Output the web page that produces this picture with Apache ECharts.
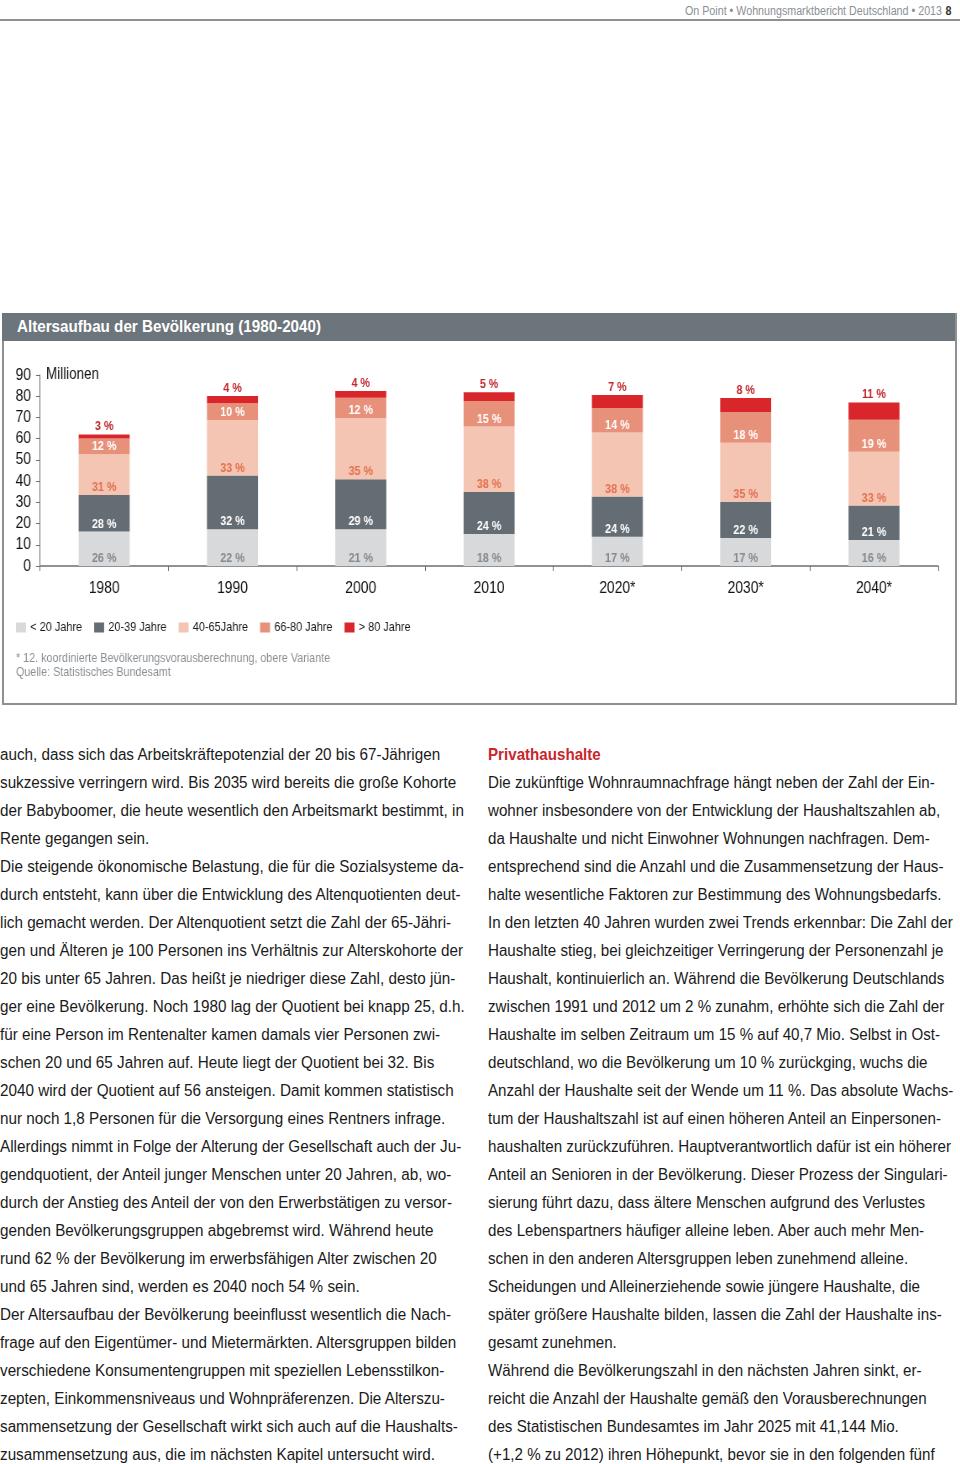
<!DOCTYPE html>
<html>
<head>
<meta charset="utf-8">
<script src="https://cdn.jsdelivr.net/npm/echarts@6/dist/echarts.min.js"></script>
<style>
  html, body { margin:0; padding:0; background:#fff; }
  body { width:960px; height:1464px; position:relative; overflow:hidden;
         font-family:"Liberation Sans",Arial,sans-serif; }
  .sx { transform-origin:0 0; white-space:nowrap; }
  #hdr { position:absolute; left:685px; top:4px; font-size:12.5px; color:#8a8f94; }
  #hdr b { color:#333; font-weight:bold; margin-left:4px; }
  #hdrline { position:absolute; left:0; top:19px; width:960px; height:2px; background:#8c9196; }
  #box { position:absolute; left:2px; top:313px; width:951px; height:390px; border:2px solid #8c9196; border-top:none; }
  #titlebar { position:absolute; left:2px; top:313px; width:953px; height:28px; background:#6c757b; }
  #titlebar span { position:absolute; left:15px; top:4px; color:#fff; font-weight:bold; font-size:17px; }
  #chartWrap { position:absolute; left:0; top:341px; width:960px; height:362px; overflow:hidden; }
  #chart { position:absolute; left:0; top:0; height:362px; transform-origin:0 0; }
  .col { position:absolute; top:740px; font-size:17.3px; line-height:28px; color:#1a1a1a; }
  #colL { left:0; }
  #colR { left:488px; }
  .col .h { color:#c8262b; font-weight:bold; }
</style>
</head>
<body>
<div id="hdr" class="sx">On Point • Wohnungsmarktbericht Deutschland • 2013<b>8</b></div>
<div id="hdrline"></div>
<div id="box"></div>
<div id="titlebar"><span class="sx" id="ttl">Altersaufbau der Bevölkerung (1980-2040)</span></div>
<div id="chartWrap"><div id="chart"></div></div>
<div class="col sx" id="colL"></div>
<div class="col sx" id="colR"></div>
<script>
// ---- data (millions) ----
var years = ['1980', '1990', '2000', '2010', '2020*', '2030*', '2040*'];
var seriesNames = ['< 20 Jahre', '20-39 Jahre', '40-65Jahre', '66-80 Jahre', '> 80 Jahre'];
var under20   = [16.2, 17.3, 17.3, 15.1, 13.8, 13.2, 12.3];
var age20to39 = [17.3, 25.3, 23.6, 19.8, 18.9, 17.1, 16.2];
var age40to65 = [19.2, 26.2, 28.7, 30.8, 30.2, 27.8, 25.3];
var age66to80 = [7.4, 7.9, 9.7, 12.0, 11.6, 14.5, 15.1];
var over80    = [1.9, 3.4, 3.2, 4.2, 6.1, 6.6, 8.2];
// printed percentage labels
var pctUnder20   = [26, 22, 21, 18, 17, 17, 16];
var pct20to39    = [28, 32, 29, 24, 24, 22, 21];
var pct40to65    = [31, 33, 35, 38, 38, 35, 33];
var pct66to80    = [12, 10, 12, 15, 14, 18, 19];
var pctOver80    = [3, 4, 4, 5, 7, 8, 11];
var yTicks = [0, 10, 20, 30, 40, 50, 60, 70, 80, 90];

var colors = ['#d8d9da', '#646d73', '#f4c5b2', '#e8917a', '#d9262b'];
var labelColors = ['#858a8f', '#ffffff', '#e2714f', '#ffffff', '#c0262b'];
var values = [under20, age20to39, age40to65, age66to80, over80];
var pcts = [pctUnder20, pct20to39, pct40to65, pct66to80, pctOver80];

// the reference uses a condensed typeface; emulate by drawing into a wider
// canvas and compressing it horizontally
var S = 0.84;
var W = 960 / S;
var chartEl = document.getElementById('chart');
chartEl.style.width = W + 'px';
chartEl.style.transform = 'scaleX(' + S + ')';

var FONT = '"Liberation Sans",Arial,sans-serif';

var series = values.map(function (v, i) {
  return {
    name: seriesNames[i],
    type: 'bar',
    stack: 'pop',
    barWidth: 51 / S,
    data: v,
    itemStyle: { color: colors[i] },
    label: {
      show: true,
      position: i === 4 ? 'top' : 'insideBottom',
      distance: 1,
      color: labelColors[i],
      fontFamily: FONT,
      fontWeight: 'bold',
      fontSize: 12.8,
      formatter: (function (p) { return function (params) { return p[params.dataIndex] + ' %'; }; })(pcts[i])
    }
  };
});

var chart = echarts.init(chartEl);
chart.setOption({
  animation: false,
  textStyle: { fontFamily: FONT },
  grid: { left: 40 / S, right: 22 / S, top: 34, bottom: 137 },
  legend: {
    left: 16 / S, top: 280, padding: 0,
    icon: 'rect', itemWidth: 10 / S, itemHeight: 10, itemGap: 12 / S,
    textStyle: { fontSize: 13, color: '#1a1a1a', fontFamily: FONT },
    data: seriesNames
  },
  xAxis: {
    type: 'category',
    data: years,
    axisLine: { lineStyle: { color: '#6b6f73', width: 1.5 } },
    axisTick: { show: true, length: 5, lineStyle: { color: '#6b6f73' } },
    axisLabel: { fontSize: 16.5, color: '#111', margin: 14, fontFamily: FONT }
  },
  yAxis: {
    type: 'value', min: yTicks[0], max: yTicks[yTicks.length - 1], interval: 10,
    splitLine: { show: false },
    axisLine: { show: true, lineStyle: { color: '#6b6f73', width: 1 } },
    axisTick: { show: true, length: 4 / S, lineStyle: { color: '#6b6f73' } },
    axisLabel: { fontSize: 16.5, color: '#111', margin: 9 / S, fontFamily: FONT }
  },
  graphic: [
    { type: 'text', left: 46 / S, top: 26, style: { text: 'Millionen', fontSize: 16, fill: '#111', fontFamily: FONT } },
    { type: 'text', left: 16 / S, top: 311, style: { text: '* 12. koordinierte Bevölkerungsvorausberechnung, obere Variante', fontSize: 12.8, fill: '#8a8f94', fontFamily: FONT } },
    { type: 'text', left: 16 / S, top: 325, style: { text: 'Quelle: Statistisches Bundesamt', fontSize: 12.8, fill: '#8a8f94', fontFamily: FONT } }
  ],
  series: series
});

var leftLines = [
'auch, dass sich das Arbeitskräftepotenzial der 20 bis 67-Jährigen',
'sukzessive verringern wird. Bis 2035 wird bereits die große Kohorte',
'der Babyboomer, die heute wesentlich den Arbeitsmarkt bestimmt, in',
'Rente gegangen sein.',
'Die steigende ökonomische Belastung, die für die Sozialsysteme da-',
'durch entsteht, kann über die Entwicklung des Altenquotienten deut-',
'lich gemacht werden. Der Altenquotient setzt die Zahl der 65-Jähri-',
'gen und Älteren je 100 Personen ins Verhältnis zur Alterskohorte der',
'20 bis unter 65 Jahren. Das heißt je niedriger diese Zahl, desto jün-',
'ger eine Bevölkerung. Noch 1980 lag der Quotient bei knapp 25, d.h.',
'für eine Person im Rentenalter kamen damals vier Personen zwi-',
'schen 20 und 65 Jahren auf. Heute liegt der Quotient bei 32. Bis',
'2040 wird der Quotient auf 56 ansteigen. Damit kommen statistisch',
'nur noch 1,8 Personen für die Versorgung eines Rentners infrage.',
'Allerdings nimmt in Folge der Alterung der Gesellschaft auch der Ju-',
'gendquotient, der Anteil junger Menschen unter 20 Jahren, ab, wo-',
'durch der Anstieg des Anteil der von den Erwerbstätigen zu versor-',
'genden Bevölkerungsgruppen abgebremst wird. Während heute',
'rund 62 % der Bevölkerung im erwerbsfähigen Alter zwischen 20',
'und 65 Jahren sind, werden es 2040 noch 54 % sein.',
'Der Altersaufbau der Bevölkerung beeinflusst wesentlich die Nach-',
'frage auf den Eigentümer- und Mietermärkten. Altersgruppen bilden',
'verschiedene Konsumentengruppen mit speziellen Lebensstilkon-',
'zepten, Einkommensniveaus und Wohnpräferenzen. Die Alterszu-',
'sammensetzung der Gesellschaft wirkt sich auch auf die Haushalts-',
'zusammensetzung aus, die im nächsten Kapitel untersucht wird.'
];
var rightLines = [
'Die zukünftige Wohnraumnachfrage hängt neben der Zahl der Ein-',
'wohner insbesondere von der Entwicklung der Haushaltszahlen ab,',
'da Haushalte und nicht Einwohner Wohnungen nachfragen. Dem-',
'entsprechend sind die Anzahl und die Zusammensetzung der Haus-',
'halte wesentliche Faktoren zur Bestimmung des Wohnungsbedarfs.',
'In den letzten 40 Jahren wurden zwei Trends erkennbar: Die Zahl der',
'Haushalte stieg, bei gleichzeitiger Verringerung der Personenzahl je',
'Haushalt, kontinuierlich an. Während die Bevölkerung Deutschlands',
'zwischen 1991 und 2012 um 2 % zunahm, erhöhte sich die Zahl der',
'Haushalte im selben Zeitraum um 15 % auf 40,7 Mio. Selbst in Ost-',
'deutschland, wo die Bevölkerung um 10 % zurückging, wuchs die',
'Anzahl der Haushalte seit der Wende um 11 %. Das absolute Wachs-',
'tum der Haushaltszahl ist auf einen höheren Anteil an Einpersonen-',
'haushalten zurückzuführen. Hauptverantwortlich dafür ist ein höherer',
'Anteil an Senioren in der Bevölkerung. Dieser Prozess der Singulari-',
'sierung führt dazu, dass ältere Menschen aufgrund des Verlustes',
'des Lebenspartners häufiger alleine leben. Aber auch mehr Men-',
'schen in den anderen Altersgruppen leben zunehmend alleine.',
'Scheidungen und Alleinerziehende sowie jüngere Haushalte, die',
'später größere Haushalte bilden, lassen die Zahl der Haushalte ins-',
'gesamt zunehmen.',
'Während die Bevölkerungszahl in den nächsten Jahren sinkt, er-',
'reicht die Anzahl der Haushalte gemäß den Vorausberechnungen',
'des Statistischen Bundesamtes im Jahr 2025 mit 41,144 Mio.',
'(+1,2 % zu 2012) ihren Höhepunkt, bevor sie in den folgenden fünf'
];
function fill(el, lines, heading) {
  if (heading) {
    var h = document.createElement('div'); h.className = 'h'; h.textContent = heading; el.appendChild(h);
  }
  lines.forEach(function (t) { var d = document.createElement('div'); d.textContent = t; el.appendChild(d); });
}
var colL = document.getElementById('colL'), colR = document.getElementById('colR');
fill(colL, leftLines);
fill(colR, rightLines, 'Privathaushalte');

// horizontal compression of text blocks to the widths seen in the reference
var cv = document.createElement('canvas').getContext('2d');
function textW(font, t) { cv.font = font; return cv.measureText(t).width; }
var bodyFont = '17.3px "Liberation Sans"';
var sL = 441 / textW(bodyFont, leftLines[0]);
var sR = 465 / textW(bodyFont, rightLines[5]);
colL.style.transform = 'scaleX(' + sL + ')';
colR.style.transform = 'scaleX(' + sR + ')';
var hdr = document.getElementById('hdr');
var sH = 257 / textW('12.5px "Liberation Sans"', 'On Point • Wohnungsmarktbericht Deutschland • 2013');
hdr.style.transform = 'scaleX(' + sH + ')';
var ttl = document.getElementById('ttl');
var sT = 304 / textW('bold 17px "Liberation Sans"', ttl.textContent);
ttl.style.transform = 'scaleX(' + sT + ')';
</script>
</body>
</html>
